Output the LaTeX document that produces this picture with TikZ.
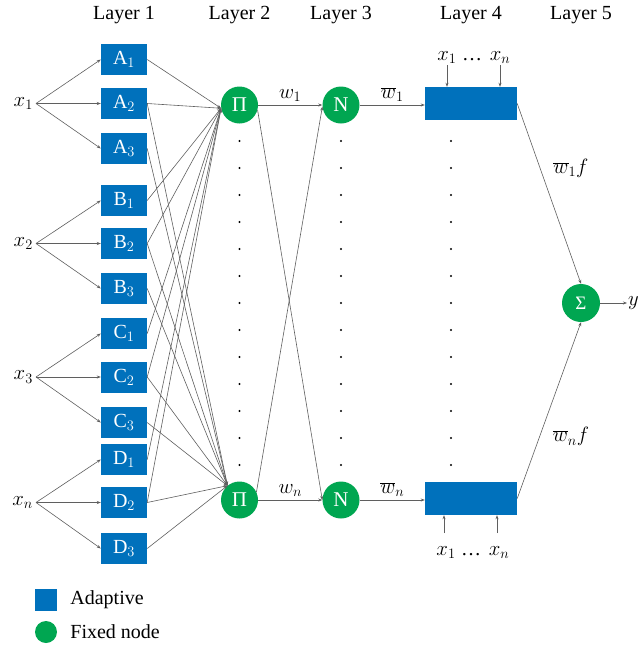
\documentclass[tikz,border=0pt]{standalone}
\usepackage{fontspec}
\setmainfont{Liberation Serif}
\usetikzlibrary{arrows.meta,positioning}
\definecolor{adaptblue}{RGB}{0,113,188}
\definecolor{fixedgreen}{RGB}{0,166,81}
\definecolor{wiregray}{RGB}{95,95,95}

\begin{document}
\begin{tikzpicture}[
  x=1pt,y=-1pt,
  font=\fontsize{20}{24}\selectfont,
  mf/.style={fill=adaptblue,text=white,minimum width=46pt,minimum height=31pt,inner sep=0pt},
  rulebox/.style={fill=adaptblue,minimum width=92pt,minimum height=33pt,inner sep=0pt},
  fixed/.style={circle,fill=fixedgreen,text=white,minimum size=37pt,inner sep=0pt,
                font=\fontsize{21}{24}\selectfont},
  lbl/.style={inner sep=1pt},
  wire/.style={draw=wiregray,line width=0.6pt,-{Stealth[length=4pt,width=3pt]}}
]
\useasboundingbox (0,0) rectangle (643,648);

% layer titles
\node[anchor=base] (lay1) at (124,19.5) {Layer 1};
\node[anchor=base] (lay2) at (239.5,19.5) {Layer 2};
\node[anchor=base] (lay3) at (341,19.5) {Layer 3};
\node[anchor=base] (lay4) at (471,19.5) {Layer 4};
\node[anchor=base] (lay5) at (581,19.5) {Layer 5};

% inputs
\node[anchor=east,inner sep=3pt] (x1) at (36,103.5) {$x_1$};
\node[anchor=east,inner sep=3pt] (x2) at (36,243.5) {$x_2$};
\node[anchor=east,inner sep=3pt] (x3) at (36,377) {$x_3$};
\node[anchor=east,inner sep=3pt] (xn) at (36,502.5) {$x_n$};

% membership functions
\node[mf] (A1) at (124,59.5) {A$_1$};
\node[mf] (A2) at (124,103.5) {A$_2$};
\node[mf] (A3) at (124,148.5) {A$_3$};
\node[mf] (B1) at (124,200.5) {B$_1$};
\node[mf] (B2) at (124,243.5) {B$_2$};
\node[mf] (B3) at (124,288.5) {B$_3$};
\node[mf] (C1) at (124,333.5) {C$_1$};
\node[mf] (C2) at (124,377) {C$_2$};
\node[mf] (C3) at (124,422.5) {C$_3$};
\node[mf] (D1) at (124,459.5) {D$_1$};
\node[mf] (D2) at (124,502.5) {D$_2$};
\node[mf] (D3) at (124,548.5) {D$_3$};

% rule, normalisation and output nodes
\node[fixed] (P1) at (239.5,105) {Π};
\node[fixed] (P2) at (239.5,500) {Π};
\node[fixed] (N1) at (341,105) {N};
\node[fixed] (N2) at (341,500) {N};
\node[rulebox] (R1) at (471,103.5) {};
\node[rulebox] (Rn) at (471,498.5) {};
\node[fixed,minimum size=38pt,font=\fontsize{19}{22}\selectfont] (sum) at (581,303) {Σ};
\node[anchor=west,inner sep=1pt] (y) at (627,303) {$y$};

% dots between the two rows
\foreach \c in {239.5,341,451}
  \foreach \k in {0,...,12}
    \fill (\c,141+27*\k) circle (1.1pt);

\foreach \i/\m in {1/A,2/B,3/C,n/D}
  \foreach \s in {1,2,3}
    \draw[wire] (x\i.east) -- (\m\s.west);

\foreach \m in {A,B,C,D} {
  \draw[wire] (\m1.east) -- (P1.190);
  \draw[wire] (\m2.east) -- (P1.190);
  \draw[wire] (\m2.east) -- (P2.130);
  \draw[wire] (\m3.east) -- (P2.130);
}

\draw[wire] (P1) -- node[above=2pt,lbl] {$w_1$} (N1);
\draw[wire] (P2) -- node[above=2pt,lbl] {$w_n$} (N2);
\draw[wire] (P1.-15) -- (N2.180);
\draw[wire] (P2.25) -- (N1.185);
\draw[wire] (N1) -- node[above=2pt,lbl] {$\overline{w}_1$} (N1 -| R1.west);
\draw[wire] (N2) -- node[above=2pt,lbl] {$\overline{w}_n$} (N2 -| Rn.west);

% consequent inputs
\node[anchor=base,lbl] (t1) at (447,60) {$x_1$};
\node[anchor=base,lbl] (tdots) at (472,60) {\dots};
\node[anchor=base,lbl] (tn) at (500,60) {$x_n$};
\node[anchor=base,lbl] (b1) at (446,555) {$x_1$};
\node[anchor=base,lbl] (bdots) at (471,555) {\dots};
\node[anchor=base,lbl] (bn) at (499,555) {$x_n$};
\coordinate (t1tail) at (447,65);
\coordinate (tntail) at (500,65);
\coordinate (b1tail) at (444,533);
\coordinate (bntail) at (497,533);
\draw[wire] (t1tail) -- (t1tail |- R1.north);
\draw[wire] (tntail) -- (tntail |- R1.north);
\draw[wire] (b1tail) -- (b1tail |- Rn.south);
\draw[wire] (bntail) -- (bntail |- Rn.south);

\draw[wire] (R1.east) -- node[pos=0.36,right=12pt,lbl] {$\overline{w}_1 f$} (sum.north);
\draw[wire] (Rn.east) -- node[pos=0.35,right=12pt,lbl] {$\overline{w}_n f$} (sum.south);
\draw[wire] (sum) -- (y);

% legend
\node[fill=adaptblue,minimum size=22pt,inner sep=0pt] (keyA) at (46,600) {};
\node[right=13pt of keyA,inner sep=0pt] (keyAtxt) {Adaptive};
\node[circle,fill=fixedgreen,minimum size=22pt,inner sep=0pt] (keyF) at (46,632) {};
\node[right=13pt of keyF,inner sep=0pt] (keyFtxt) {Fixed node};
\end{tikzpicture}
\end{document}
